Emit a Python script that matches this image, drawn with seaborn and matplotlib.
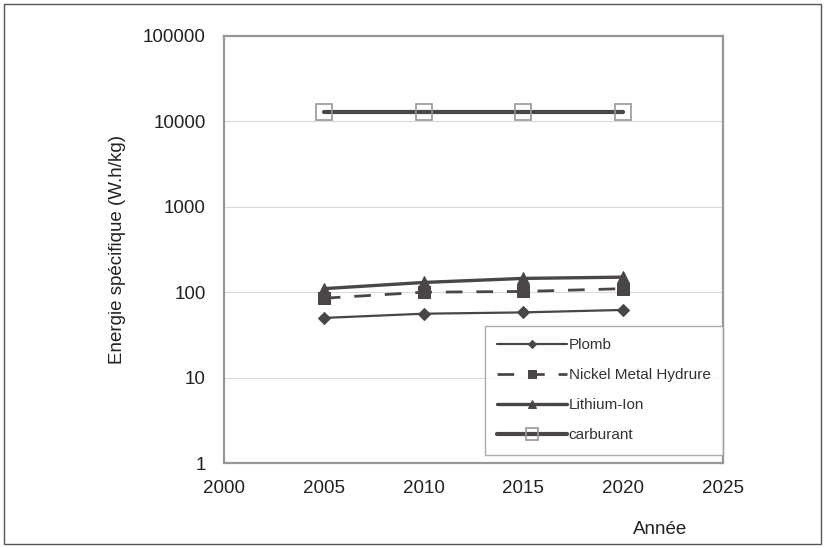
import matplotlib
matplotlib.use("Agg")
import matplotlib.pyplot as plt
import seaborn as sns
from matplotlib.patches import Rectangle

sns.set_theme(style="white")
plt.rcParams["font.family"] = ["Liberation Sans", "DejaVu Sans"]

years = [2005, 2010, 2015, 2020]
plomb = [50, 56, 58, 62]
nimh = [85, 100, 102, 110]
li_ion = [110, 130, 145, 150]
carburant = [13000, 13000, 13000, 13000]

x_ticks = [2000, 2005, 2010, 2015, 2020, 2025]
y_ticks = [1, 10, 100, 1000, 10000, 100000]

fig = plt.figure(figsize=(8.25, 5.48), dpi=100)
ax = fig.add_axes([0.2715, 0.155, 0.6048, 0.7795])

line_col = "#4a4646"
spine_col = "#9a9696"

sns.lineplot(x=years, y=plomb, ax=ax, color=line_col, lw=1.6,
             marker="D", markersize=6, markeredgecolor=line_col,
             label="Plomb")
sns.lineplot(x=years, y=nimh, ax=ax, color=line_col, lw=2.0,
             linestyle=(0, (6, 5)), marker="s", markersize=8,
             markeredgecolor=line_col, label="Nickel Metal Hydrure")
sns.lineplot(x=years, y=li_ion, ax=ax, color=line_col, lw=2.4,
             marker="^", markersize=8, markeredgecolor=line_col,
             label="Lithium-Ion")
sns.lineplot(x=years, y=carburant, ax=ax, color=line_col, lw=3.0,
             marker="s", markersize=11, markerfacecolor="none",
             markeredgecolor="#9a9696", markeredgewidth=1.2,
             label="carburant")

ax.set_yscale("log")
ax.set_ylim(1, 100000)
ax.set_xlim(2000, 2025)
ax.set_xticks(x_ticks)
ax.set_xticklabels([str(v) for v in x_ticks])
ax.set_yticks(y_ticks)
ax.set_yticklabels([str(v) for v in y_ticks])
ax.yaxis.set_minor_locator(matplotlib.ticker.NullLocator())

for v in [10, 100, 1000, 10000]:
    ax.axhline(v, color="#dcd8d8", lw=0.8, zorder=0)

for s in ax.spines.values():
    s.set_visible(True)
    s.set_color(spine_col)
    s.set_linewidth(1.6)

ax.tick_params(axis="both", labelsize=13.5, labelcolor="#222222",
               color=spine_col, length=5, width=1.0, direction="out", pad=8)
ax.tick_params(axis="x", length=4, direction="in", pad=12)

ax.set_ylabel("Energie spécifique (W.h/kg)", fontsize=13.5, color="#222222",
              labelpad=12)
ax.set_xlabel("")
fig.text(0.80, 0.025, "Année", fontsize=13.5, color="#222222", ha="center")

leg = ax.legend(loc="lower right", bbox_to_anchor=(1.0, 0.02), fontsize=11,
                frameon=True, fancybox=False, edgecolor="#9a9696",
                handlelength=4.6, labelspacing=1.05, borderpad=0.8,
                handletextpad=0.1, borderaxespad=0.0, markerscale=0.75)
leg.get_frame().set_linewidth(1.0)
for t in leg.get_texts():
    t.set_color("#333333")

fig.patches.append(Rectangle((0.005, 0.007), 0.99, 0.986,
                             transform=fig.transFigure, fill=False,
                             edgecolor="#555555", lw=1.0))

fig.savefig("out.png", dpi=100)
